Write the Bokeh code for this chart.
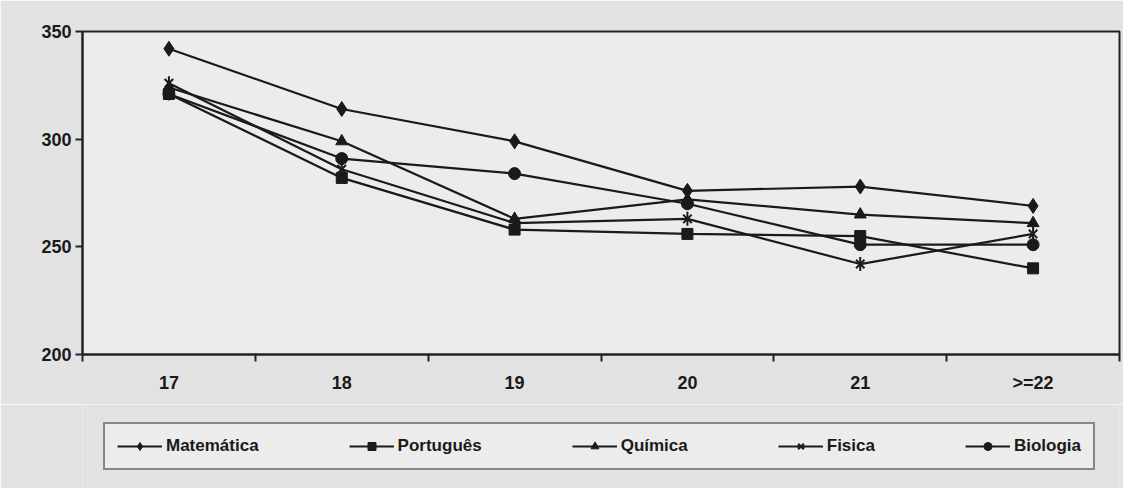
from bokeh.plotting import figure
from bokeh.models import FixedTicker, Range1d, Legend, LegendItem
from bokeh.layouts import column
from bokeh.embed import file_html
from bokeh.resources import INLINE
import math

categories = ["17", "18", "19", "20", "21", ">=22"]
matematica = [342, 314, 299, 276, 278, 269]
portugues = [321, 282, 258, 256, 255, 240]
quimica = [324, 299, 263, 272, 265, 261]
fisica = [326, 286, 261, 263, 242, 256]
biologia = [321, 291, 284, 270, 251, 251]
series_names = ["Matemática", "Português", "Química", "Fisica", "Biologia"]
y_ticks = [200, 250, 300, 350]

xs = [i + 0.5 for i in range(len(categories))]
BG = "#e2e2e2"
FONT = "Liberation Sans"
LC = "#1a1a1a"
LW = 2.2

p = figure(frame_width=1037, frame_height=323, output_backend="svg", toolbar_location=None,
           x_range=Range1d(0, len(categories)), y_range=Range1d(200, 350),
           min_border_left=82, min_border_right=4, min_border_top=31, min_border_bottom=50)
p.background_fill_color = "#ececec"
p.border_fill_color = BG
p.outline_line_color = "#222222"
p.outline_line_width = 2
p.grid.visible = False

p.xaxis.ticker = FixedTicker(ticks=xs, minor_ticks=list(range(len(categories) + 1)))
p.xaxis.major_label_overrides = {x: c for x, c in zip(xs, categories)}
p.xaxis.major_tick_line_color = None
p.xaxis.major_tick_out = 0
p.xaxis.major_tick_in = 0
p.xaxis.minor_tick_out = 7
p.xaxis.minor_tick_in = 0
p.xaxis.minor_tick_line_width = 2
p.xaxis.minor_tick_line_color = "#222222"
p.xaxis.major_label_standoff = 11

p.yaxis.ticker = FixedTicker(ticks=y_ticks, minor_ticks=[])
p.yaxis.major_tick_out = 7
p.yaxis.major_tick_in = 0
p.yaxis.major_tick_line_width = 2
p.yaxis.major_tick_line_color = "#222222"
p.yaxis.minor_tick_line_color = None
p.yaxis.major_label_standoff = 4

for ax in (p.xaxis, p.yaxis):
    ax.axis_line_width = 2
    ax.axis_line_color = "#222222"
    ax.major_label_text_font = FONT
    ax.major_label_text_font_style = "bold"
    ax.major_label_text_font_size = "18px"
    ax.major_label_text_color = "#1a1a1a"


def draw_series(fig, visible=True):
    rs = []
    r = fig.line(xs, matematica, line_color=LC, line_width=LW, visible=visible)
    m = fig.scatter(xs, matematica, marker="diamond", size=15, color=LC, visible=visible)
    rs.append([r, m])
    r = fig.line(xs, portugues, line_color=LC, line_width=LW, visible=visible)
    m = fig.scatter(xs, portugues, marker="square", size=11, color=LC, visible=visible)
    rs.append([r, m])
    r = fig.line(xs, quimica, line_color=LC, line_width=LW, visible=visible)
    m = fig.scatter(xs, quimica, marker="triangle", size=12, color=LC, visible=visible)
    rs.append([r, m])
    r = fig.line(xs, fisica, line_color=LC, line_width=LW, visible=visible)
    ma = fig.scatter(xs, fisica, marker="x", size=12, line_color=LC, line_width=2, visible=visible)
    mb = fig.scatter(xs, fisica, marker="dash", size=14, angle=math.pi / 2, line_color=LC,
                     line_width=2, visible=visible)
    rs.append([r, ma, mb])
    r = fig.line(xs, biologia, line_color=LC, line_width=LW, visible=visible)
    m = fig.scatter(xs, biologia, marker="circle", size=12, color=LC, visible=visible)
    rs.append([r, m])
    return rs


draw_series(p)

# legend strip below the chart
lf = figure(frame_width=1037, frame_height=84, output_backend="svg", toolbar_location=None,
            x_range=Range1d(0, len(categories)), y_range=Range1d(200, 350),
            x_axis_location=None, y_axis_location=None,
            min_border_left=82, min_border_right=4, min_border_top=0, min_border_bottom=0)
lf.outline_line_color = None
lf.background_fill_color = BG
lf.border_fill_color = BG
lf.grid.visible = False
legend_rs = draw_series(lf, visible=False)

items = [LegendItem(label=n, renderers=rs) for n, rs in zip(series_names, legend_rs)]
legend = Legend(items=items, orientation="horizontal", location=(21, 18))
legend.glyph_width = 45
legend.label_standoff = 4
legend.spacing = 90
legend.padding = 12
legend.margin = 0
legend.border_line_color = "#222222"
legend.border_line_width = 2
legend.background_fill_color = "#ececec"
legend.background_fill_alpha = 1
legend.inactive_fill_alpha = 0
legend.click_policy = "none"
legend.label_text_font = FONT
legend.label_text_font_style = "bold"
legend.label_text_font_size = "17px"
legend.label_text_color = "#1a1a1a"
lf.add_layout(legend, "center")

layout = column(p, lf, spacing=0)
open("out.html", "w").write(file_html(layout, INLINE))
